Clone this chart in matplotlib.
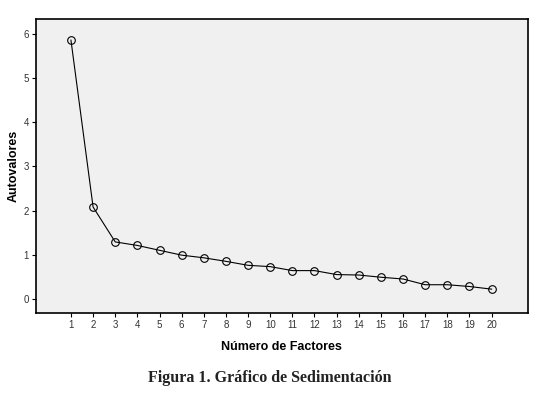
import matplotlib.pyplot as plt
import numpy as np

# Datos del gráfico de sedimentación
factores = np.arange(1, 21)
autovalores = [5.86, 2.08, 1.29, 1.21, 1.10, 0.99, 0.93, 0.85, 0.76, 0.73,
               0.64, 0.64, 0.55, 0.54, 0.49, 0.45, 0.32, 0.32, 0.28, 0.22]
y_ticks = [0, 1, 2, 3, 4, 5, 6]

fig = plt.figure(figsize=(5.33, 3.93), dpi=100)
ax = fig.add_axes([0.0675, 0.2036, 0.9225, 0.7481])
ax.set_facecolor('#f0f0f0')

ax.plot(factores, autovalores, color='black', linewidth=0.8,
        marker='o', markersize=5.5, markerfacecolor='none',
        markeredgecolor='black', markeredgewidth=0.8)

ax.set_xlim(-0.58, 21.63)
ax.set_ylim(-0.32, 6.34)
ax.set_xticks(factores)
ax.set_yticks(y_ticks)

for s in ax.spines.values():
    s.set_linewidth(1.2)
    s.set_color('black')

ax.tick_params(axis='both', labelsize=7, labelcolor='#333333',
               length=3, width=0.8, direction='out', pad=2)
for lbl in ax.get_xticklabels() + ax.get_yticklabels():
    lbl.set_family('Liberation Sans')

ax.set_xlabel('Número de Factores', fontsize=9, fontweight='bold',
              family='Liberation Sans', labelpad=8)
ax.set_ylabel('Autovalores', fontsize=9, fontweight='bold',
              family='Liberation Sans', labelpad=3)

fig.text(0.507, 0.038, 'Figura 1. Gráfico de Sedimentación',
         ha='center', va='center', fontsize=11.5, fontweight='bold',
         family='Liberation Serif', color='#222222')

fig.savefig('out.png', dpi=100)
